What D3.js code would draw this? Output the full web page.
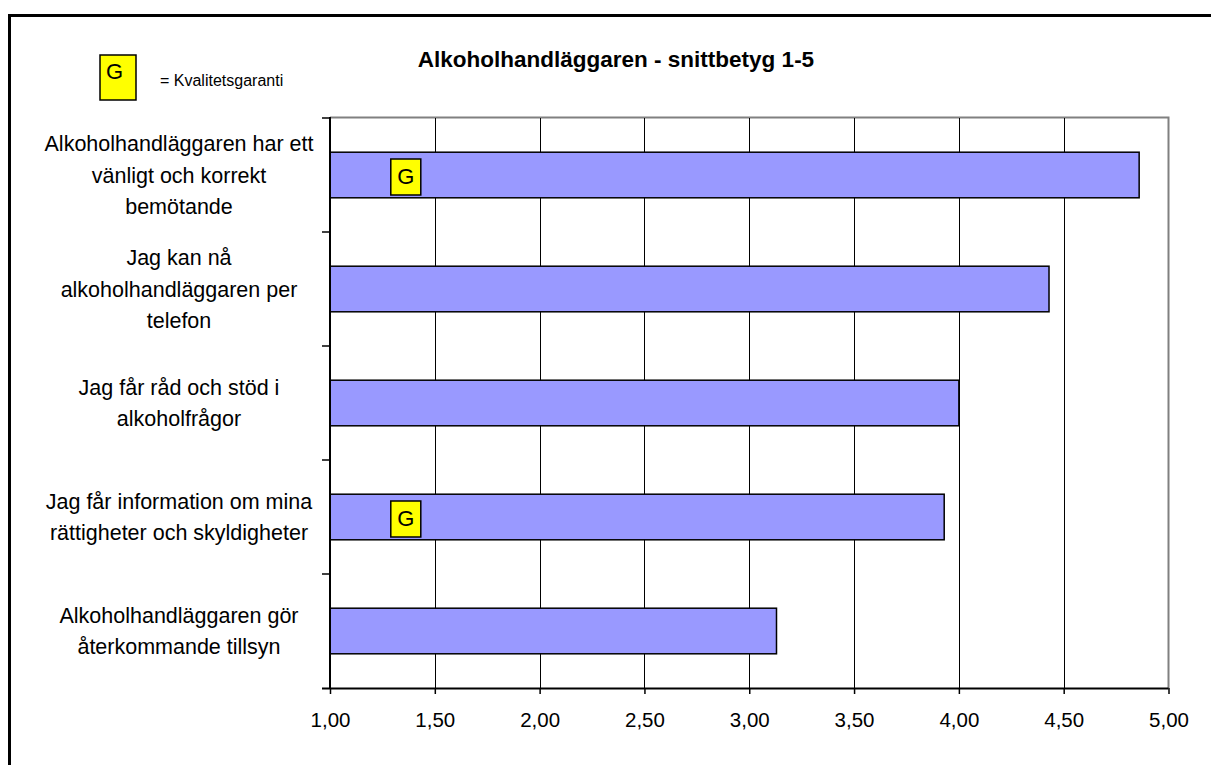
<!DOCTYPE html>
<html>
<head>
<meta charset="utf-8">
<script src="https://cdn.jsdelivr.net/npm/d3@7"></script>
<style>
  body { margin: 0; background: #fff; }
  svg { font-family: "Liberation Sans", Arial, sans-serif; }
  .title { font-size: 22.5px; font-weight: bold; }
  .cat { font-size: 21.5px; }
  .tick text { font-size: 20.5px; }
</style>
</head>
<body>
<svg width="1211" height="765"></svg>
<script>
// **** Data ****
var categories = [
    ["Alkoholhandläggaren har ett", "vänligt och korrekt", "bemötande"],
    ["Jag kan nå", "alkoholhandläggaren per", "telefon"],
    ["Jag får råd och stöd i", "alkoholfrågor"],
    ["Jag får information om mina", "rättigheter och skyldigheter"],
    ["Alkoholhandläggaren gör", "återkommande tillsyn"]
];
var scores = [4.86, 4.43, 4.00, 3.93, 3.13];
var guarantee = [true, false, false, true, false];   // "G" = Kvalitetsgaranti
var markerAt = 1.29;
var xTicks = [1, 1.5, 2, 2.5, 3, 3.5, 4, 4.5, 5];

var svg = d3.select('svg');

// outer frame
svg.append('rect')
    .attr('x', 9.5).attr('y', 15.5)
    .attr('width', 1240).attr('height', 800)
    .attr('fill', 'none').attr('stroke', '#000').attr('stroke-width', 3);

// **** Scales ****
var xScale = d3.scaleLinear().domain([1, 5]).range([330, 1168.5]);
var yScale = d3.scaleBand().domain(d3.range(categories.length)).range([118, 688]);
var barH = yScale.bandwidth() * 0.4;

// plot border (gray top/right)
svg.append('path')
    .attr('d', 'M330,117.5 H1168.5 V688')
    .attr('fill', 'none').attr('stroke', '#808080').attr('stroke-width', 2);

// gridlines
svg.append('g').selectAll('line')
    .data(xTicks.slice(1, -1))
    .enter().append('line')
    .attr('x1', function(d) { return Math.round(xScale(d)) + 0.5; })
    .attr('x2', function(d) { return Math.round(xScale(d)) + 0.5; })
    .attr('y1', 118).attr('y2', 688)
    .attr('stroke', '#000').attr('stroke-width', 1);

// bars
svg.append('g').selectAll('rect')
    .data(scores)
    .enter().append('rect')
    .attr('x', xScale(1))
    .attr('y', function(d, i) { return yScale(i) + (yScale.bandwidth() - barH) / 2; })
    .attr('width', function(d) { return xScale(d) - xScale(1); })
    .attr('height', barH)
    .attr('fill', '#9999ff')
    .attr('stroke', '#000').attr('stroke-width', 1.5);

// G markers
var marks = svg.append('g').selectAll('g')
    .data(scores.map(function(d, i) { return i; }).filter(function(i) { return guarantee[i]; }))
    .enter().append('g')
    .attr('transform', function(i) {
        return 'translate(' + xScale(markerAt) + ',' + (yScale(i) + yScale.bandwidth() / 2 - 16) + ')';
    });
marks.append('rect')
    .attr('width', 30).attr('height', 36)
    .attr('fill', '#ffff00').attr('stroke', '#000').attr('stroke-width', 1.5);
marks.append('text')
    .attr('x', 15).attr('y', 24.5)
    .attr('text-anchor', 'middle')
    .style('font-size', '22px')
    .text('G');

// axes
var xAxis = svg.append('g').attr('class', 'x axis')
    .attr('transform', 'translate(0,688)')
    .call(d3.axisBottom(xScale).tickValues(xTicks).tickSize(6).tickSizeOuter(0)
        .tickFormat(function(d) { return d3.format('.2f')(d).replace('.', ','); }));
xAxis.select('.domain').attr('stroke-width', 2).attr('d', 'M322,0.5H1168.5');
xAxis.selectAll('.tick line').attr('stroke-width', 1.5);
xAxis.selectAll('.tick text').attr('y', 39).attr('dy', 0).attr('fill', '#000');

var yAxis = svg.append('g').attr('class', 'y axis');
yAxis.append('line')
    .attr('x1', 330).attr('x2', 330).attr('y1', 117).attr('y2', 688)
    .attr('stroke', '#000').attr('stroke-width', 2);
yAxis.selectAll('.ytick')
    .data(d3.range(categories.length))
    .enter().append('line')
    .attr('x1', 322).attr('x2', 330)
    .attr('y1', function(i) { return yScale(i); })
    .attr('y2', function(i) { return yScale(i); })
    .attr('stroke', '#000').attr('stroke-width', 1.5);

// category labels
var lineH = 31.5;
svg.append('g').selectAll('text')
    .data(categories)
    .enter().append('text')
    .attr('class', 'cat')
    .attr('text-anchor', 'middle')
    .each(function(lines, i) {
        var cy = yScale(i) + yScale.bandwidth() / 2;
        var y0 = cy - (lines.length - 1) * lineH / 2;
        d3.select(this).selectAll('tspan')
            .data(lines)
            .enter().append('tspan')
            .attr('x', 179)
            .attr('y', function(d, j) { return y0 + j * lineH + 7.5; })
            .text(function(d) { return d; });
    });

// title
svg.append('text')
    .attr('class', 'title')
    .attr('x', 616).attr('y', 67)
    .attr('text-anchor', 'middle')
    .text('Alkoholhandläggaren - snittbetyg 1-5');

// legend
svg.append('rect')
    .attr('x', 100).attr('y', 55).attr('width', 36).attr('height', 45)
    .attr('fill', '#ffff00').attr('stroke', '#000').attr('stroke-width', 1.5);
svg.append('text')
    .attr('x', 114.5).attr('y', 79).attr('text-anchor', 'middle')
    .style('font-size', '22px').text('G');
svg.append('text')
    .attr('x', 160).attr('y', 86)
    .style('font-size', '16px').text('= Kvalitetsgaranti');
</script>
</body>
</html>
